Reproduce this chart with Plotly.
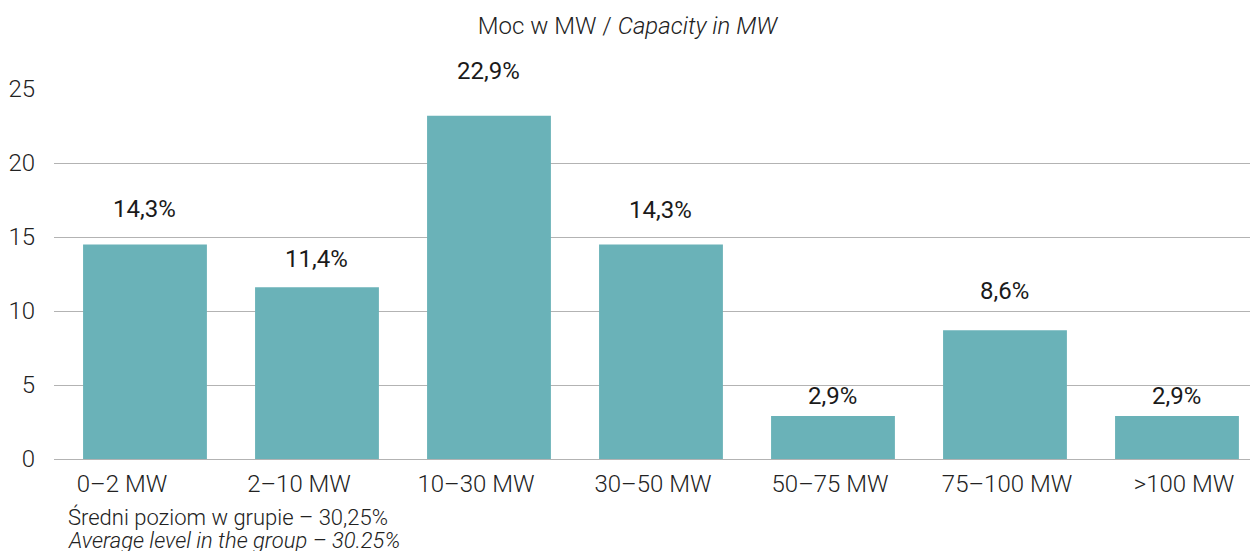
import plotly.graph_objects as go

categories = ["0–2 MW", "2–10 MW", "10–30 MW", "30–50 MW", "50–75 MW", "75–100 MW", ">100 MW"]
values = [14.5, 11.6, 23.2, 14.5, 2.9, 8.7, 2.9]
labels = ["14,3%", "11,4%", "22,9%", "14,3%", "2,9%", "8,6%", "2,9%"]
y_ticks = [0, 5, 10, 15, 20, 25]

# gap (px) between bar top and its label, as drawn in the original
label_gap = [23, 16, 33, 22, 8, 27, 8]

FONT = "Roboto Light, Roboto, sans-serif"
TXT = "#222222"

# page body has an 8px margin, so the figure is sized to fit the window
W, H = 1250, 543
T, B, L = 81, 92, 46
plot_h = H - T - B

fig = go.Figure()
fig.add_trace(go.Bar(
    x=list(range(len(categories))), y=values,
    width=0.72,
    marker=dict(color="#6ab2b8", line=dict(width=0)),
    hovertext=categories, hoverinfo="text+y",
))
# the category captions in the original sit on a slightly wider spacing than the bars
fig.add_trace(go.Scatter(
    x=list(range(len(categories))), y=[0] * len(categories),
    xaxis="x2", mode="markers", marker=dict(opacity=0), hoverinfo="skip",
))

for i, (val, lab, gap) in enumerate(zip(values, labels, label_gap)):
    fig.add_annotation(
        x=i, y=val, text=lab, showarrow=False,
        yanchor="bottom", yshift=gap - 4,
        font=dict(family="Roboto, sans-serif", size=24, color="#1a1a1a"),
    )

fig.update_layout(
    width=W, height=H,
    margin=dict(l=L, r=0, t=T, b=B),
    plot_bgcolor="#ffffff", paper_bgcolor="#ffffff",
    showlegend=False,
    font=dict(family=FONT, size=24, color=TXT),
    title=dict(text="Moc w MW / <i>Capacity in MW</i>", x=619.5 / W, xanchor="center",
               y=1 - 18 / H, yanchor="middle", font=dict(family=FONT, size=24, color=TXT)),
    xaxis=dict(range=[-0.529, 6.471], showgrid=False, showline=False, zeroline=False,
               ticks="", showticklabels=False, automargin=False),
    xaxis2=dict(overlaying="x", side="bottom", range=[-0.384, 6.418],
                tickvals=list(range(len(categories))), ticktext=categories,
                showgrid=False, showline=False, zeroline=False, ticks="",
                ticklabelstandoff=8, automargin=False,
                tickfont=dict(family=FONT, size=24, color=TXT)),
    yaxis=dict(range=[0, 25], tickvals=y_ticks, showgrid=True, gridcolor="#b3b3b3",
               gridwidth=1, zeroline=True, zerolinecolor="#b3b3b3", zerolinewidth=1,
               ticklabelstandoff=18, automargin=False,
               tickfont=dict(family=FONT, size=24, color=TXT)),
)

note_x = (58 - L) / (W - L)
fig.add_annotation(
    text="Średni poziom w grupie – 30,25%",
    xref="paper", yref="paper", x=note_x, y=-(509 - (H - B)) / plot_h,
    xanchor="left", yanchor="middle", showarrow=False,
    font=dict(family=FONT, size=22, color=TXT),
)
fig.add_annotation(
    text="<i>Average level in the group – 30.25%</i>",
    xref="paper", yref="paper", x=note_x, y=-(532 - (H - B)) / plot_h,
    xanchor="left", yanchor="middle", showarrow=False,
    font=dict(family=FONT, size=22, color=TXT),
)

fig.write_html("out.html")
